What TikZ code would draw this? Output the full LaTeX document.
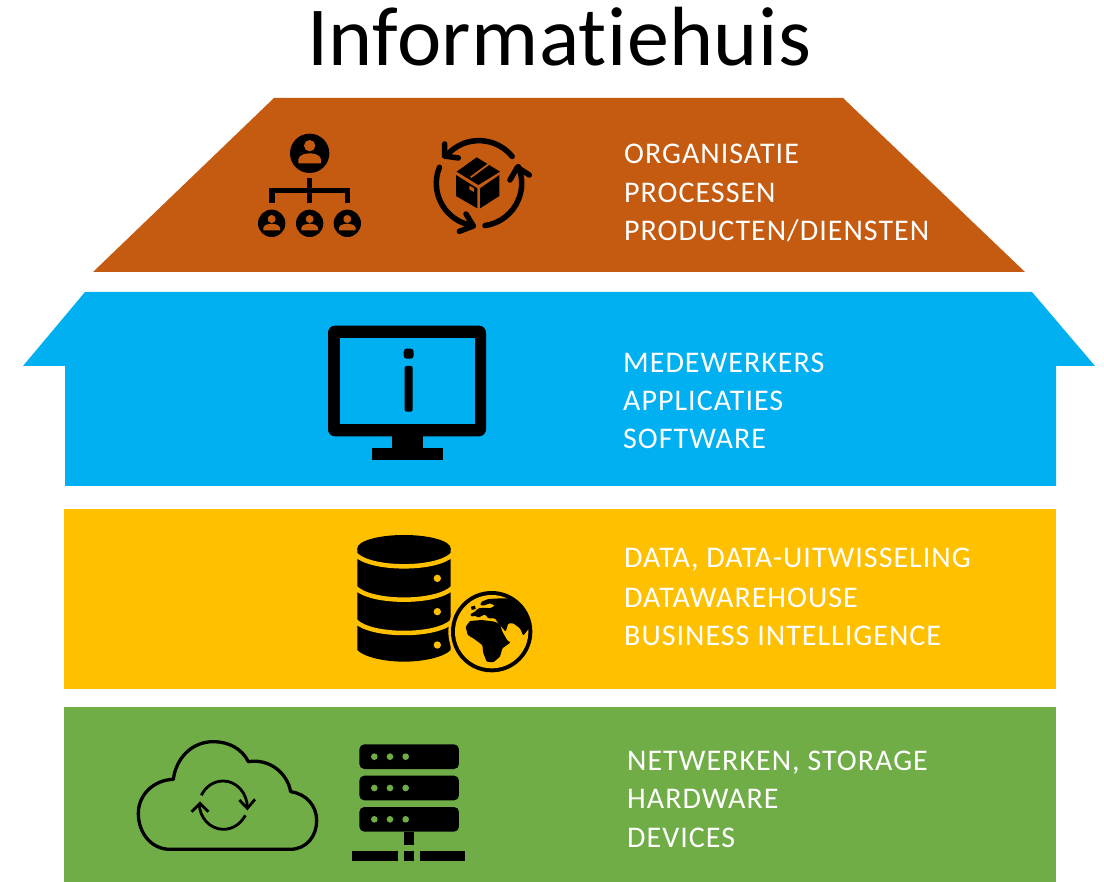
\documentclass[tikz,border=0pt]{standalone}
\usepackage{fontspec}
\setmainfont{Carlito}[Ligatures=NoCommon]
\definecolor{brownroof}{HTML}{C55A11}
\definecolor{bluefloor}{HTML}{00B0F0}
\definecolor{yellowfloor}{HTML}{FFC000}
\definecolor{greenfloor}{HTML}{70AD47}
\tikzset{
  label line/.style={anchor=base west,text=white,inner sep=0pt,font=\fontsize{30}{36}\selectfont\addfontfeatures{LetterSpace=3.4}},
  title text/.style={anchor=base west,text=black,inner sep=0pt,font=\fontsize{84}{92}\selectfont\addfontfeatures{LetterSpace=0.5}},
  cyc/.style={draw=black,line width=5.5pt,line cap=round,line join=round},
  syncline/.style={draw=black,line width=2.8pt},
  zoomed/.style={x=0.33333pt,y=-0.33333pt}
}
\begin{document}
\begin{tikzpicture}[x=1pt,y=-1pt]
\useasboundingbox (0,0) rectangle (1104,882);
\fill[white] (0,0) rectangle (1104,882);
% floors
\fill[brownroof] (274,98) -- (843,98) -- (1025,272) -- (93,272) -- cycle;
\fill[bluefloor] (85,292) -- (1032,292) -- (1095,366) -- (1056,366) -- (1056,486) -- (65,486) -- (65,366) -- (23,366) -- cycle;
\fill[yellowfloor] (64,509) rectangle (1056,689);
\fill[greenfloor] (64,707) rectangle (1056,882);
% text
\node[title text] (title) at (307,65.5) {Informatiehuis};
\node[label line] (t1) at (624,164) {ORGANISATIE};
\node[label line] (t2) at (624,203) {PROCESSEN};
\node[label line] (t3) at (624,241) {PRODUCTEN/DIENSTEN};
\node[label line] (t4) at (623,373) {MEDEWERKERS};
\node[label line] (t5) at (623,411) {APPLICATIES};
\node[label line] (t6) at (623,449) {SOFTWARE};
\node[label line] (t7) at (624,568) {DATA, DATA-UITWISSELING};
\node[label line] (t8) at (624,607) {DATAWAREHOUSE};
\node[label line] (t9) at (624,645) {BUSINESS INTELLIGENCE};
\node[label line] (t10) at (627,770) {NETWERKEN, STORAGE};
\node[label line] (t11) at (627,808) {HARDWARE};
\node[label line] (t12) at (627,847) {DEVICES};
% organisation icon
\begin{scope}[shift={(240,120)},zoomed]
  \fill[black] (209,100) circle[radius=59];
  \fill[brownroof] (209,77) circle[radius=17];
  \fill[brownroof] (175,130) -- (175,118) .. controls (178,104) and (195,100) .. (209,100) .. controls (223,100) and (240,104) .. (243,118) -- (243,130) -- cycle;
  \foreach \cx in {95,209,322}{
    \fill[black] (\cx,310) circle[radius=41];
    \fill[brownroof] (\cx,297) circle[radius=12];
    \fill[brownroof] (\cx-25,331) -- (\cx-25,323) .. controls (\cx-22,314) and (\cx-10,311) .. (\cx,311) .. controls (\cx+10,311) and (\cx+22,314) .. (\cx+25,323) -- (\cx+25,331) -- cycle;
  }
  \fill[black] (201,175) rectangle (217,250);
  \fill[black] (88,204) rectangle (330,220);
  \fill[black] (88,204) rectangle (104,250);
  \fill[black] (314,204) rectangle (330,250);
\end{scope}
% cycle icon
\coordinate (cyc) at (479,183.3);
\draw[cyc] ([shift={(-39:42.7)}]cyc) arc[start angle=-39,end angle=-141,radius=42.7];
\draw[cyc] ([shift={(-158:42.7)}]cyc) arc[start angle=-158,end angle=-262,radius=42.7];
\draw[cyc] ([shift={(-278:42.7)}]cyc) arc[start angle=-278,end angle=-383,radius=42.7];
\begin{scope}[shift={(240,120)},zoomed]
  \draw[cyc] (614,72) -- (614,108) -- (655,114);
  \draw[cyc] (678,282) -- (700,318) -- (658,334);
  \draw[cyc] (810,180) -- (832,142) -- (868,165);
  \fill[black] (710,112) -- (780,155) -- (715,195) -- (650,155) -- cycle;
  \draw[brownroof,line width=1.8pt] (692,172) -- (752,128);
  \fill[black] (648,165) -- (712,205) -- (712,265) -- (648,228) -- cycle;
  \fill[black] (720,205) -- (778,165) -- (778,228) -- (720,265) -- cycle;
  \fill[brownroof] (688,197) -- (702,205) -- (702,216) -- (688,208) -- cycle;
\end{scope}
% monitor icon
\begin{scope}[shift={(320,315)},zoomed]
  \fill[black,rounded corners=7pt] (24,32) rectangle (498,364);
  \fill[bluefloor] (60,68) rectangle (464,328);
  \fill[black] (215,364) rectangle (309,400);
  \fill[black] (155,400) rectangle (369,436);
  \fill[black,rounded corners=3pt] (251,101) rectangle (281,131);
  \fill[black,rounded corners=2pt] (254,153) rectangle (278,290);
\end{scope}
% database icon
\begin{scope}[shift={(340,525)},zoomed]
  \fill[black] (52,70) -- (52,375) .. controls (70,395) and (130,410) .. (192,410) .. controls (254,410) and (314,395) .. (332,375) -- (332,70) -- cycle;
  \fill[black] (192,70) ellipse[x radius=140,y radius=40];
  \foreach \by in {88,188,288}{
    \draw[yellowfloor,line width=4.5pt] (46,\by) .. controls (70,\by+24) and (130,\by+36) .. (192,\by+36) .. controls (254,\by+36) and (314,\by+24) .. (338,\by);
  }
  \foreach \by in {160,260,360}{
    \fill[yellowfloor] (292,\by) circle[radius=11];
  }
\end{scope}
% globe
\begin{scope}[shift={(445,585)},zoomed]
  \fill[yellowfloor] (140,140) circle[radius=130];
  \fill[black] (140,140) circle[radius=122];
  \fill[yellowfloor] (140,140) circle[radius=110];
  \begin{scope}
    \clip (140,140) circle[radius=112];
    \fill[black,rounded corners=1pt] (62,125) -- (75,108) -- (110,105) -- (150,110) -- (165,118) -- (172,140) -- (188,168) -- (197,172) -- (172,190) -- (165,215) -- (145,232) -- (125,230) -- (115,205) -- (112,180) -- (85,160) -- (68,150) -- cycle;
    \fill[black,rounded corners=1pt] (90,92) -- (80,95) -- (75,88) -- (90,80) -- (100,70) -- (120,68) -- (135,70) -- (150,62) -- (135,55) -- (115,62) -- (105,60) -- (110,50) -- (130,42) -- (165,40) -- (210,40) -- (255,90) -- (252,130) -- (235,152) -- (225,130) -- (205,115) -- (190,115) -- (182,140) -- (160,115) -- (150,100) -- (130,100) -- (120,88) -- (100,98) -- cycle;
    \fill[black] (78,65) -- (90,62) -- (92,72) -- (80,75) -- cycle;
  \end{scope}
\end{scope}
% cloud icon
\begin{scope}[shift={(130,730)},zoomed]
  \draw[black,line width=3.3pt,line join=round] (120,358) -- (480,358)
    .. controls (530,358) and (560,318) .. (560,272)
    .. controls (560,228) and (530,192) .. (482,185)
    .. controls (472,130) and (420,85) .. (355,95)
    .. controls (335,55) and (295,35) .. (250,35)
    .. controls (185,35) and (138,85) .. (130,148)
    .. controls (70,150) and (25,195) .. (25,250)
    .. controls (25,310) and (65,358) .. (120,358) -- cycle;
  \draw[syncline] (214,196) .. controls (228,168) and (252,153) .. (280,153) .. controls (320,153) and (352,190) .. (352,232);
  \draw[syncline] (328,210) -- (352,235) -- (375,208);
  \draw[syncline] (346,256) .. controls (332,282) and (308,298) .. (280,298) .. controls (240,298) and (208,262) .. (208,222);
  \draw[syncline] (185,245) -- (210,220) -- (235,245);
  % server
  \foreach \ty in {43,137,231}{
    \fill[black,rounded corners=5pt] (688,\ty) rectangle (987,\ty+74);
    \foreach \dx in {733,780,827}{
      \fill[greenfloor] (\dx,\ty+37) circle[radius=10];
    }
  }
  \fill[black] (822,305) rectangle (852,345);
  \fill[black] (666,363) rectangle (803,392);
  \fill[black] (822,363) rectangle (852,392);
  \fill[black] (870,363) rectangle (1005,392);
\end{scope}
\end{tikzpicture}
\end{document}
